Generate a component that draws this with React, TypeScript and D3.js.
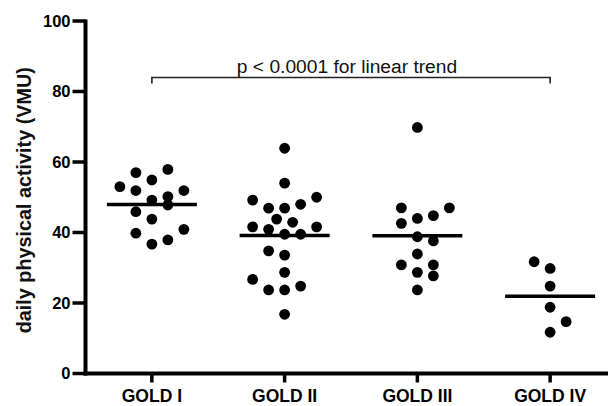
import React, { useRef, useEffect } from "react";
import * as d3 from "d3";

// categories and per-group values (VMU)
const categories = ["GOLD I", "GOLD II", "GOLD III", "GOLD IV"];

const goldI = [57.9, 57.0, 54.9, 53.0, 51.9, 51.9, 50.2, 49.2, 47.8, 45.9, 43.8, 40.9, 39.8, 37.9, 36.7];
const goldII = [63.9, 54.0, 49.2, 50.0, 46.9, 46.9, 48.0, 43.8, 42.9, 41.6, 40.9, 41.6, 39.5, 39.5, 34.8, 33.6, 28.7, 26.7, 23.7, 23.7, 24.8, 16.8];
const goldIII = [69.8, 47.0, 47.0, 42.6, 44.0, 44.8, 38.8, 37.6, 33.9, 30.8, 28.7, 30.8, 27.7, 23.7];
const goldIV = [31.7, 29.8, 24.8, 18.8, 14.7, 11.7];

// scatter column of each dot inside its group (Prism-style spreading)
const goldICol = [1, -1, 0, -2, -1, 2, 1, 0, 1, -1, 0, 2, -1, 1, 0];
const goldIICol = [0, 0, -2, 2, -1, 0, 1, -0.5, 0.5, -2, -1, 2, 0, 1, -1, 0, 0, -2, -1, 0, 1, 0];
const goldIIICol = [0, -1, 2, -1, 0, 1, 0, 1, 0, -1, 0, 1, 1, 0];
const goldIVCol = [-1, 0, 0, 0, 1, 0];

const yTicks = [0, 20, 40, 60, 80, 100];
const trendLabel = "p < 0.0001 for linear trend";
const yLabel = "daily physical activity (VMU)";

const groups = [
  { name: categories[0], values: goldI, cols: goldICol },
  { name: categories[1], values: goldII, cols: goldIICol },
  { name: categories[2], values: goldIII, cols: goldIIICol },
  { name: categories[3], values: goldIV, cols: goldIVCol },
];

const App = () => {
  const svgRef = useRef<SVGSVGElement>(null);

  useEffect(() => {
    const width = 608;
    const height = 406;
    const left = 85.5;
    const bottom = 373.5;
    const top = 21;
    const font = "Arial, 'Liberation Sans', sans-serif";

    const svg = d3.select(svgRef.current).attr("width", width).attr("height", height);
    svg.selectAll("*").remove();

    const x = d3.scaleBand().domain(categories).range([left, 616.5]);
    const cx = (c: string) => (x(c) as number) + x.bandwidth() / 2;
    const y = d3.scaleLinear().domain([0, 100]).range([bottom, top]);
    const spread = d3.scaleLinear().domain([-1, 1]).range([-16, 16]);

    // y axis
    const yAxis = svg.append("g");
    yAxis
      .append("line")
      .attr("x1", left)
      .attr("x2", left)
      .attr("y1", y(100) - 1.5)
      .attr("y2", bottom + 2)
      .attr("stroke", "#000")
      .attr("stroke-width", 4);
    yAxis
      .selectAll(".yt")
      .data(yTicks)
      .enter()
      .append("line")
      .attr("x1", left - 13)
      .attr("x2", left)
      .attr("y1", (d) => y(d))
      .attr("y2", (d) => y(d))
      .attr("stroke", "#000")
      .attr("stroke-width", 3.5);
    yAxis
      .selectAll(".yl")
      .data(yTicks)
      .enter()
      .append("text")
      .attr("x", 70.5)
      .attr("y", (d) => y(d))
      .attr("dy", "0.36em")
      .attr("text-anchor", "end")
      .attr("font-family", font)
      .attr("font-weight", "bold")
      .attr("font-size", 16.5)
      .text((d) => d);

    // x axis
    const xAxis = svg.append("g");
    xAxis
      .append("line")
      .attr("x1", left - 2)
      .attr("x2", width)
      .attr("y1", bottom)
      .attr("y2", bottom)
      .attr("stroke", "#000")
      .attr("stroke-width", 4);
    xAxis
      .selectAll(".xt")
      .data(categories)
      .enter()
      .append("line")
      .attr("x1", (d) => cx(d))
      .attr("x2", (d) => cx(d))
      .attr("y1", bottom)
      .attr("y2", bottom + 9)
      .attr("stroke", "#000")
      .attr("stroke-width", 3.5);
    xAxis
      .selectAll(".xl")
      .data(categories)
      .enter()
      .append("text")
      .attr("x", (d) => cx(d))
      .attr("y", 401.5)
      .attr("text-anchor", "middle")
      .attr("font-family", font)
      .attr("font-weight", "bold")
      .attr("font-size", 17.5)
      .text((d) => d);

    // y label
    svg
      .append("text")
      .attr("transform", `translate(31,${(top + bottom) / 2 + 3}) rotate(-90)`)
      .attr("text-anchor", "middle")
      .attr("font-family", font)
      .attr("font-weight", "bold")
      .attr("font-size", 19.8)
      .attr("fill", "#111")
      .text(yLabel);

    // dots
    groups.forEach((g) => {
      const c = cx(g.name);
      svg
        .append("g")
        .selectAll("circle")
        .data(g.values)
        .enter()
        .append("circle")
        .attr("cx", (_, i) => c + spread(g.cols[i]))
        .attr("cy", (d) => y(d))
        .attr("r", 5.4)
        .attr("fill", "#000");

      const m = d3.mean(g.values) as number;
      svg
        .append("line")
        .attr("x1", c - 45)
        .attr("x2", c + 45)
        .attr("y1", y(m))
        .attr("y2", y(m))
        .attr("stroke", "#000")
        .attr("stroke-width", 3.5);
    });

    // trend bracket
    const bx1 = cx(categories[0]);
    const bx2 = cx(categories[3]);
    const by = 77.5;
    svg
      .append("path")
      .attr("d", `M${bx1},${by + 6}V${by}H${bx2}V${by + 6}`)
      .attr("fill", "none")
      .attr("stroke", "#222")
      .attr("stroke-width", 1.6);
    svg
      .append("text")
      .attr("x", 347)
      .attr("y", 72.5)
      .attr("text-anchor", "middle")
      .attr("font-family", font)
      .attr("font-size", 19.2)
      .attr("fill", "#111")
      .text(trendLabel);
  }, []);

  return (
    <svg ref={svgRef} style={{ position: "absolute", left: 0, top: 0 }}></svg>
  );
};

export default App;
